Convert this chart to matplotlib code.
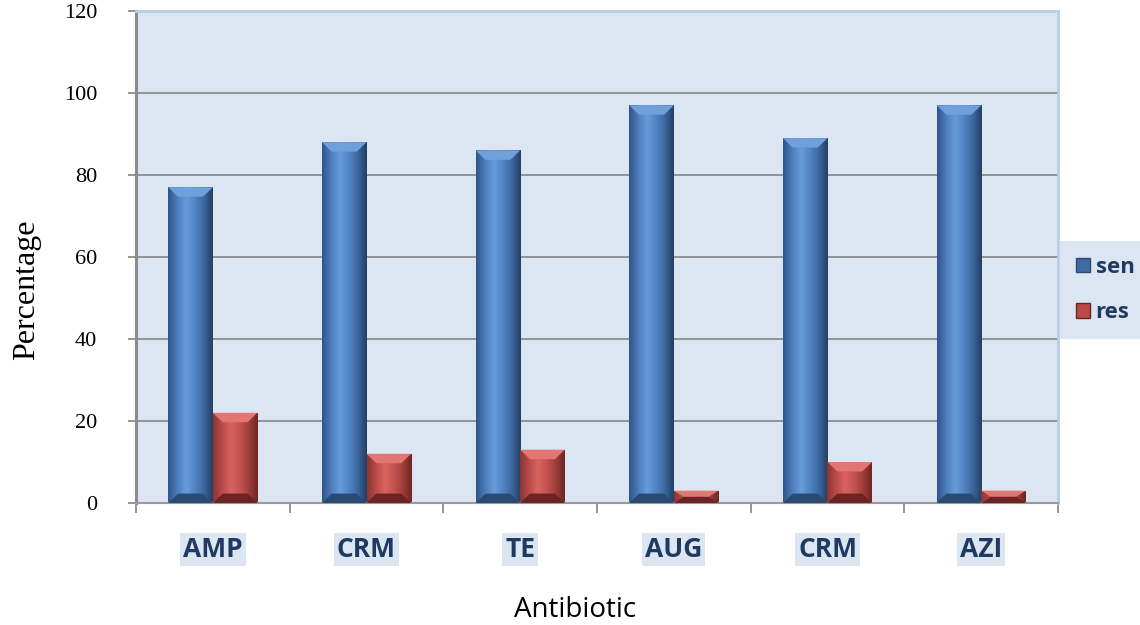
import numpy as np
import matplotlib
matplotlib.use("Agg")
import matplotlib.pyplot as plt
from matplotlib.patches import Polygon, Patch
from matplotlib.colors import LinearSegmentedColormap

antibiotics = ["AMP", "CRM", "TE", "AUG", "CRM", "AZI"]
sen = [77, 88, 86, 97, 89, 97]
res = [22, 12, 13, 3, 10, 3]

navy = "#1F3A60"
panel = "#DCE6F2"

fig = plt.figure(figsize=(11.4, 6.25), dpi=100)
ax = fig.add_axes([136 / 1140, 1 - 503 / 625, (1058 - 136) / 1140, (503 - 11) / 625])
ax.set_facecolor(panel)

x = np.arange(len(antibiotics))
w = 0.29

blue_cmap = LinearSegmentedColormap.from_list(
    "b", ["#30558A", "#4D7DBC", "#679BDA", "#5285C4", "#3C68A0", "#253F63"])
red_cmap = LinearSegmentedColormap.from_list(
    "r", ["#8C3532", "#BA4B4B", "#D9635F", "#C55350", "#A03E3B", "#6E2624"])

grad = np.linspace(0, 1, 64).reshape(1, -1)


def bevel_bars(bars, cmap, light, dark):
    for b in bars:
        x0, y0 = b.get_x(), b.get_y()
        bw, bh = b.get_width(), b.get_height()
        x1, y1 = x0 + bw, y0 + bh
        im = ax.imshow(grad, cmap=cmap, aspect="auto", extent=(x0, x1, y0, y1),
                       zorder=2, interpolation="bicubic")
        im.set_clip_path(b)
        bx = bw * 0.22
        by = min(2.3, bh / 2)
        ax.add_patch(Polygon([(x0, y1), (x1, y1), (x1 - bx, y1 - by), (x0 + bx, y1 - by)],
                             closed=True, facecolor=light, edgecolor="none", zorder=3))
        ax.add_patch(Polygon([(x0, y0), (x1, y0), (x1 - bx, y0 + by), (x0 + bx, y0 + by)],
                             closed=True, facecolor=dark, edgecolor="none", zorder=3))


bs = ax.bar(x - w / 2, sen, w, color="none", edgecolor="none", zorder=2)
br = ax.bar(x + w / 2, res, w, color="none", edgecolor="none", zorder=2)
bevel_bars(bs, blue_cmap, "#6FA0DC", "#2A4A72")
bevel_bars(br, red_cmap, "#E27673", "#6A2422")

ax.set_xlim(-0.5, len(antibiotics) - 0.5)
ax.set_ylim(0, 120)
ax.set_yticks(range(0, 121, 20))
ax.set_yticklabels([str(v) for v in range(0, 121, 20)], family="Liberation Serif", fontsize=16)
ax.yaxis.grid(True, color="#8C8C8C", lw=1.3, zorder=1)
ax.set_axisbelow(True)
ax.tick_params(axis="y", length=6, width=1.3, color="#8C8C8C", pad=22)

ax.set_xticks(np.arange(len(antibiotics) + 1) - 0.5)
ax.set_xticklabels([])
ax.tick_params(axis="x", length=7, width=1.3, color="#8C8C8C")
for i, name in enumerate(antibiotics):
    ax.text(i, -11.3, name, ha="center", va="center", family="Open Sans",
            fontweight="bold", fontsize=19, color=navy,
            bbox=dict(facecolor=panel, edgecolor="none", pad=2))

ax.spines["left"].set_color("#8C8C8C")
ax.spines["left"].set_linewidth(2.2)
ax.spines["bottom"].set_color("#9A9A9A")
ax.spines["bottom"].set_linewidth(1.5)
ax.spines["top"].set_color("#B9CDE5")
ax.spines["top"].set_linewidth(2)
ax.spines["right"].set_color("#B9CDE5")
ax.spines["right"].set_linewidth(2)

fig.text(27 / 1140, 1 - 290 / 625, "Percentage", rotation=90, ha="center", va="center",
         family="Liberation Serif", fontsize=23)
fig.text(575 / 1140, 1 - 610 / 625, "Antibiotic", ha="center", va="center",
         family="Open Sans", fontsize=20)

handles = [Patch(facecolor="#3F6AA3", edgecolor="#2A4A72"),
           Patch(facecolor="#B94A48", edgecolor="#6A2422")]
leg = fig.legend(handles, ["sen", "res"], loc="center left",
                 bbox_to_anchor=(1060 / 1140, 1 - 290 / 625), frameon=True,
                 fancybox=False, facecolor=panel, edgecolor="none", framealpha=1,
                 prop={"family": "Open Sans", "weight": "bold", "size": 16},
                 handlelength=0.65, handleheight=0.65, handletextpad=0.25,
                 labelspacing=1.1, borderpad=0.7, borderaxespad=0)
leg._legend_box.sep = 0
for t in leg.get_texts():
    t.set_color(navy)

fig.savefig("out.png", dpi=100)
